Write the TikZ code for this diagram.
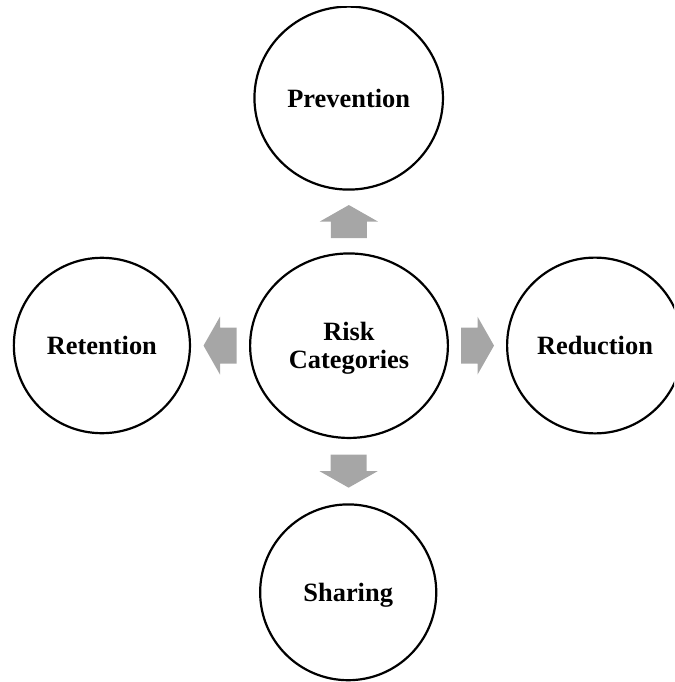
\documentclass[tikz,border=0pt]{standalone}
\usepackage{fontspec}
\setmainfont{Liberation Serif}
\usetikzlibrary{shapes.geometric,calc}
\definecolor{arrowgray}{RGB}{166,166,166}
\begin{document}
\begin{tikzpicture}[x=1pt,y=-1pt,
  circ/.style={ellipse,draw=black,line width=2.2pt,inner sep=0pt,align=center,
    text depth=0pt,font=\fontsize{26.4}{28}\selectfont\bfseries},
  blockarrow/.pic={\fill[arrowgray] (-16.5,-18) -- (0,-18) -- (0,-29) -- (16.5,0) -- (0,29) -- (0,18) -- (-16.5,18) -- cycle;}
]
\useasboundingbox (0,0) rectangle (674,682);
\begin{scope}
\clip (0,6.8) rectangle (674,682);
\node[circ, minimum width=188.5pt, minimum height=183pt] (prev) at (348.7,98.1) {Prevention};
\node[circ, minimum width=197.8pt, minimum height=184.5pt] (risk) at (349,345.7) {Risk\\Categories};
\node[circ, minimum width=176.1pt, minimum height=175.4pt] (ret) at (101.9,345.5) {Retention};
\node[circ, minimum width=175.8pt, minimum height=175.8pt] (red) at (595,345.5) {Reduction};
\node[circ, minimum width=176.1pt, minimum height=175.8pt] (sha) at (348.2,592.3) {Sharing};
\end{scope}
\pic[rotate=90] at ($(risk.north)!0.5!(prev.south)$) {blockarrow};
\pic[rotate=-90] at ($(risk.south)!0.5!(sha.north)$) {blockarrow};
\pic[rotate=180] at ($(risk.west)!0.5!(ret.east)$) {blockarrow};
\pic at ($(risk.east)!0.5!(red.west)$) {blockarrow};
\end{tikzpicture}
\end{document}
